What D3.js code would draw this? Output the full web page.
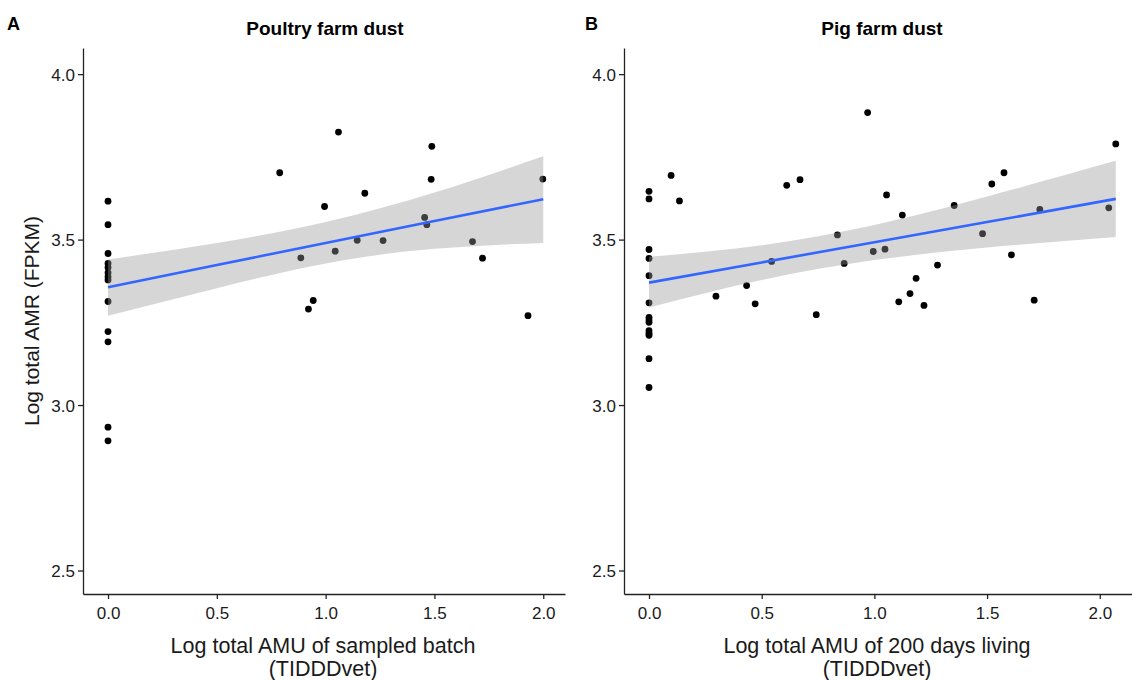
<!DOCTYPE html>
<html>
<head>
<meta charset="utf-8">
<script src="https://cdn.jsdelivr.net/npm/d3@7"></script>
<style>
  body { margin: 0; background: #fff; }
  text { font-family: "Liberation Sans", Arial, sans-serif; }
</style>
</head>
<body>
<div id="chart"></div>
<script>
// poultry farm dust (panel A)
var poultryX = [0, 0, 0, 0, 0, 0, 0, 0, 0, 0, 0, 0, 0,
  0.789, 0.886, 0.921, 0.943, 0.995, 1.059, 1.044, 1.145, 1.180, 1.264,
  1.455, 1.465, 1.485, 1.488, 1.675, 1.721, 1.930, 1.998];
var poultryY = [3.616, 3.545, 3.458, 3.428, 3.416, 3.400, 3.388, 3.378, 3.313, 3.222, 3.191, 2.933, 2.892,
  3.702, 3.445, 3.290, 3.316, 3.600, 3.825, 3.465, 3.498, 3.640, 3.497,
  3.567, 3.545, 3.682, 3.782, 3.494, 3.444, 3.270, 3.683];
// fitted line + 95% band
var poultryFitX = [0, 0.5, 1.0, 1.5, 2.0];
var poultryFit = [3.356, 3.423, 3.490, 3.556, 3.622];
var poultryLo = [3.270, 3.353, 3.428, 3.472, 3.490];
var poultryHi = [3.440, 3.490, 3.553, 3.642, 3.752];

// pig farm dust (panel B)
var pigX = [0, 0, 0, 0, 0, 0, 0, 0, 0, 0, 0, 0, 0, 0,
  0.098, 0.135, 0.297, 0.433, 0.471, 0.544, 0.611, 0.670, 0.742, 0.836,
  0.866, 0.970, 0.995, 1.047, 1.054, 1.108, 1.124, 1.158, 1.185, 1.220,
  1.280, 1.354, 1.480, 1.521, 1.575, 1.608, 1.709, 1.734, 2.040, 2.071];
var pigY = [3.646, 3.623, 3.470, 3.443, 3.391, 3.309, 3.265, 3.257, 3.250, 3.225, 3.217, 3.211, 3.140, 3.053,
  3.694, 3.617, 3.329, 3.361, 3.306, 3.434, 3.664, 3.681, 3.273, 3.514,
  3.428, 3.884, 3.464, 3.471, 3.635, 3.312, 3.574, 3.337, 3.383, 3.301,
  3.423, 3.603, 3.518, 3.668, 3.702, 3.454, 3.317, 3.591, 3.596, 3.789];
var pigFitX = [0, 0.5, 1.0, 1.5, 2.071];
var pigFit = [3.370, 3.431, 3.492, 3.553, 3.623];
var pigLo = [3.295, 3.378, 3.438, 3.476, 3.508];
var pigHi = [3.448, 3.483, 3.544, 3.630, 3.738];

var xTicks = [0, 0.5, 1.0, 1.5, 2.0];
var yTicks = [2.5, 3.0, 3.5, 4.0];

var width = 1132, height = 680;

var svg = d3.select("#chart").append("svg")
  .attr("width", width)
  .attr("height", height);

var y = d3.scaleLinear()
  .domain([2.429, 4.079])
  .range([594, 48]);

function drawPanel(opt) {
  var x = d3.scaleLinear()
    .domain(opt.xDomain)
    .range(opt.xRange);

  var g = svg.append("g");

  // points first, the band goes on top of them
  var pts = opt.px.map(function(d, i) { return [d, opt.py[i]]; });
  g.selectAll(".pt")
    .data(pts)
    .enter().append("circle")
    .attr("class", "pt")
    .attr("cx", function(d) { return x(d[0]); })
    .attr("cy", function(d) { return y(d[1]); })
    .attr("r", 3.4)
    .attr("fill", "#000");

  var band = opt.fx.map(function(d, i) { return {x: d, fit: opt.fit[i], lo: opt.lo[i], hi: opt.hi[i]}; });

  var area = d3.area()
    .x(function(d) { return x(d.x); })
    .y0(function(d) { return y(d.lo); })
    .y1(function(d) { return y(d.hi); })
    .curve(d3.curveNatural);

  g.append("path")
    .datum(band)
    .attr("d", area)
    .attr("fill", "#999999")
    .attr("fill-opacity", 0.4);

  var line = d3.line()
    .x(function(d) { return x(d.x); })
    .y(function(d) { return y(d.fit); });

  g.append("path")
    .datum(band)
    .attr("d", line)
    .attr("fill", "none")
    .attr("stroke", "#3366FF")
    .attr("stroke-width", 2.6);

  // axes
  var xAxis = d3.axisBottom(x).tickValues(xTicks).tickFormat(d3.format(".1f")).tickSize(5).tickSizeOuter(0);
  var yAxis = d3.axisLeft(y).tickValues(yTicks).tickFormat(d3.format(".1f")).tickSize(5).tickSizeOuter(0);

  var gx = g.append("g")
    .attr("transform", "translate(0,594)")
    .call(xAxis);
  var gy = g.append("g")
    .attr("transform", "translate(" + opt.xRange[0] + ",0)")
    .call(yAxis);

  [gx, gy].forEach(function(a) {
    a.select(".domain").attr("stroke", "#222").attr("stroke-width", 1.3);
    a.selectAll(".tick line").attr("stroke", "#222").attr("stroke-width", 1.3);
    a.selectAll(".tick text")
      .attr("fill", "#1a1a1a")
      .style("font-size", "17px")
      .style("font-family", "'Liberation Sans', Arial, sans-serif");
  });
  gx.selectAll(".tick text").attr("dy", "1.0em");
  gy.selectAll(".tick text").attr("dy", ".35em").attr("x", -8);

  g.append("text")
    .attr("x", opt.titleX)
    .attr("y", 35)
    .attr("text-anchor", "middle")
    .style("font-size", "19px")
    .style("font-weight", "bold")
    .text(opt.title);

  g.append("text")
    .attr("x", opt.tagX)
    .attr("y", 30)
    .style("font-size", "18px")
    .style("font-weight", "bold")
    .text(opt.tag);

  var xl = g.append("text")
    .attr("x", opt.labelX)
    .attr("y", 653)
    .attr("text-anchor", "middle")
    .attr("fill", "#1a1a1a")
    .style("font-size", "21.5px");
  xl.append("tspan").attr("x", opt.labelX).text(opt.xLabel);
  xl.append("tspan").attr("x", opt.labelX).attr("dy", 23).text("(TIDDDvet)");
}

drawPanel({
  px: poultryX, py: poultryY,
  fx: poultryFitX, fit: poultryFit, lo: poultryLo, hi: poultryHi,
  xDomain: [-0.115, 2.1], xRange: [83, 565],
  title: "Poultry farm dust", titleX: 325,
  tag: "A", tagX: 7,
  xLabel: "Log total AMU of sampled batch", labelX: 323
});

drawPanel({
  px: pigX, py: pigY,
  fx: pigFitX, fit: pigFit, lo: pigLo, hi: pigHi,
  xDomain: [-0.111, 2.143], xRange: [624, 1132],
  title: "Pig farm dust", titleX: 882,
  tag: "B", tagX: 585,
  xLabel: "Log total AMU of 200 days living", labelX: 877
});

// shared y label
svg.append("text")
  .attr("transform", "translate(39,321)rotate(-90)")
  .attr("text-anchor", "middle")
  .attr("fill", "#1a1a1a")
  .style("font-size", "21px")
  .text("Log total AMR (FPKM)");
</script>
</body>
</html>
